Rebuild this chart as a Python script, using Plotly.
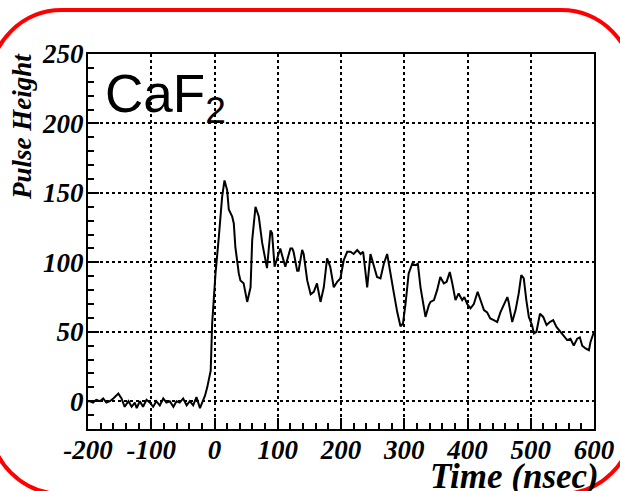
import plotly.graph_objects as go

# ---- data ----
time_ns = [-200, -197, -192, -187, -181, -176, -171, -165.5, -160, -152, -147, -142, -136, -131,
           -126, -123, -118, -113, -107.5, -102, -97, -92, -86.5, -81, -76, -70.7, -65, -60,
           -55, -49.5, -44, -39, -33.7, -28.5, -23, -19, -15, -11.5, -6, -3.7, 1.6, 6.8, 12,
           15.8, 20, 22.6, 28, 30.5, 33, 38.4, 41, 46, 51.7, 57, 59.6, 64.8, 70, 75.4, 80.6,
           83, 88.5, 91, 95, 101.7, 104, 107.5, 112, 120, 123, 125, 130.7, 133, 138.6, 141,
           146.6, 152, 157, 162, 167.6, 172.8, 178, 183, 188.6, 194, 199, 204.4, 209.8, 215,
           220, 225.6, 231, 235, 238.7, 241.4, 246.6, 252, 257, 262.4, 267.7, 273, 278, 283.5,
           289, 294, 298, 302, 307, 312.6, 318, 321.5, 325.7, 331, 333.6, 338.8, 341.5, 347,
           352, 357, 362.6, 367, 372, 376, 381, 386, 391.6, 395, 399.5, 404.7, 410, 416,
           420.6, 426, 431, 436, 441.6, 447, 452, 457.5, 463, 465, 470.7, 476, 481, 485, 489,
           493, 497, 502, 505, 509, 514.6, 519.7, 525, 530, 535.5, 540.7, 547, 552, 557.6,
           562.8, 568, 573.4, 577.6, 581.4, 586.6, 592, 594.5, 600]
pulse_height = [0, 0, -1, 1, 0, 2, -1, 0, 2, 5.5, 2, -4, 0, -4,
                -1, -5, 0, -4, 1, -1, -4, 0, -3, 2, -1, 0, -4, 0,
                -1, 2, -3, 0, -3, 3, -5, -1, 4, 10, 22, 56, 92, 118, 147,
                159, 152, 138, 133, 128, 111, 92, 87, 85, 71.5, 82, 116, 140, 133, 114, 101.6,
                95.8, 123, 121, 96.8, 108, 110, 104, 96.8, 110, 110, 107.6, 94, 94, 109, 106,
                87, 77, 78.8, 84.8, 71.5, 82, 102.8, 96.8, 82, 86, 88.4, 101.6, 107.6, 107.6,
                106, 108.8, 106, 107.6, 94, 82, 106, 98, 89.5, 88.4, 99, 106, 94, 78,
                64, 54, 56, 70, 92, 99, 98, 99, 82, 65.6, 60.7, 69, 71.5, 72.8,
                80, 89.5, 84.8, 86, 93, 84.8, 72.8, 77.6, 72.8, 75, 70, 66.8, 70, 78.8,
                72.8, 65.6, 64, 59.6, 58.4, 57, 64, 69, 75, 71.5, 57, 65.6, 77.6, 90.8, 88.4,
                72.8, 60.7, 54.8, 48.8, 50, 63, 60.7, 54.8, 57, 58.4, 53.5, 50, 47.5, 44,
                45, 40, 45, 46, 40, 38, 36.7, 42.7, 50]
x_tick_vals = [-200, -100, 0, 100, 200, 300, 400, 500, 600]
x_tick_text = ["-200", "-100", "0", "100", "200", "300", "400", "500", "600"]
y_tick_vals = [0, 50, 100, 150, 200, 250]
y_tick_text = ["0", "50", "100", "150", "200", "250"]

W, H = 620, 491
ML, MR, MT, MB = 88, 26, 54, 62
PW, PH = W - ML - MR, H - MT - MB


def px2paper(px, py):
    return (px - ML) / PW, (H - MB - py) / PH


# rounded red frame (pixel geometry -> paper coords)
Lf, Rf, Tf, Bf, r = -10, 633, 10, 494, 72
k = 0.5523 * r
pts = [
    ("M", [(Lf + r, Tf)]),
    ("L", [(Rf - r, Tf)]),
    ("C", [(Rf - r + k, Tf), (Rf, Tf + r - k), (Rf, Tf + r)]),
    ("L", [(Rf, Bf - r)]),
    ("C", [(Rf, Bf - r + k), (Rf - r + k, Bf), (Rf - r, Bf)]),
    ("L", [(Lf + r, Bf)]),
    ("C", [(Lf + r - k, Bf), (Lf, Bf - r + k), (Lf, Bf - r)]),
    ("L", [(Lf, Tf + r)]),
    ("C", [(Lf, Tf + r - k), (Lf + r - k, Tf), (Lf + r, Tf)]),
]
path = ""
for cmd, pp in pts:
    path += cmd + " " + " ".join("%.5f,%.5f" % px2paper(a, b) for a, b in pp) + " "
path += "Z"

fig = go.Figure()
fig.add_trace(go.Scatter(x=time_ns, y=pulse_height, mode="lines",
                         line=dict(color="black", width=2), showlegend=False))

tickfont = dict(family="Liberation Serif", size=27, color="black", weight="bold", style="italic")

fig.update_layout(
    template="none",
    width=W, height=H,
    margin=dict(l=ML, r=MR, t=MT, b=MB, pad=0),
    paper_bgcolor="white", plot_bgcolor="white",
    xaxis=dict(range=[-200, 600], tickvals=x_tick_vals, ticktext=x_tick_text,
               ticks="inside", ticklen=11, tickwidth=2,
               tickcolor="black", showline=True, linecolor="black", linewidth=2, mirror=True,
               showgrid=True, gridcolor="black", griddash="dot", gridwidth=1.5, zeroline=False,
               tickfont=tickfont, automargin=False, ticklabelstandoff=-4,
               minor=dict(dtick=20, tick0=0, ticks="inside", ticklen=6, tickwidth=1.5,
                          tickcolor="black", showgrid=False)),
    yaxis=dict(range=[-20, 250], tickvals=y_tick_vals, ticktext=y_tick_text,
               ticks="inside", ticklen=11, tickwidth=2,
               tickcolor="black", showline=True, linecolor="black", linewidth=2, mirror=True,
               showgrid=True, gridcolor="black", griddash="dot", gridwidth=1.5, zeroline=False,
               tickfont=tickfont, automargin=False, ticklabelstandoff=-3,
               minor=dict(dtick=10, tick0=0, ticks="inside", ticklen=6, tickwidth=1.5,
                          tickcolor="black", showgrid=False)),
    shapes=[dict(type="path", path=path, xref="paper", yref="paper",
                 line=dict(color="#ff0000", width=4), fillcolor="rgba(0,0,0,0)", layer="above")],
)

ax, ay = px2paper(601, 476)
fig.add_annotation(text="Time (nsec)", xref="paper", yref="paper", x=ax, y=ay,
                   xanchor="right", yanchor="middle", showarrow=False,
                   font=dict(family="Liberation Serif", size=35, color="black",
                             weight="bold", style="italic"))
bx, by = px2paper(22, 127)
fig.add_annotation(text="Pulse Height", xref="paper", yref="paper", x=bx, y=by,
                   xanchor="center", yanchor="middle", textangle=-90, showarrow=False,
                   font=dict(family="Liberation Serif", size=27, color="black",
                             weight="bold", style="italic"))
cx, cy = px2paper(103, 98)
fig.add_annotation(text="CaF<sub>2</sub>", xref="paper", yref="paper", x=cx, y=cy,
                   xanchor="left", yanchor="middle", showarrow=False,
                   font=dict(family="Liberation Sans", size=53, color="black"))

fig.write_html("out.html")
